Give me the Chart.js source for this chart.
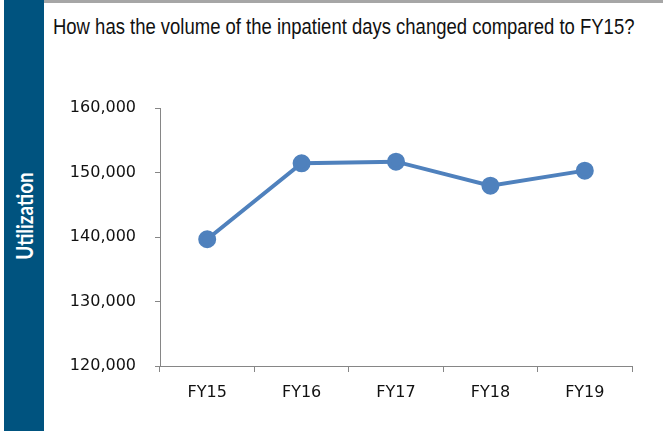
<!DOCTYPE html>
<html>
<head>
<meta charset="utf-8">
<script src="https://cdn.jsdelivr.net/npm/chart.js@4"></script>
<style>
  html, body { margin: 0; padding: 0; background: #fff; }
  #wrap { position: relative; width: 663px; height: 431px; overflow: hidden; }
  #topbar { position: absolute; left: 44px; top: 0; width: 619px; height: 3px; background: #a6a6a6; }
  #side { position: absolute; left: 4px; top: 0; width: 40px; height: 431px; background: #00537f; }
  #side span { position: absolute; left: 20px; top: 216px; line-height: 1;
    transform: translate(-50%, -50%) rotate(-90deg) scaleX(0.86);
    color: #fff; font: bold 22px Lato, sans-serif; white-space: nowrap; }
  #title { position: absolute; left: 53px; top: 14px; line-height: 1;
    font: 22px "Liberation Sans", Arial, sans-serif; transform: scaleX(0.84); transform-origin: 0 0;
    color: #111; white-space: nowrap; }
  canvas { position: absolute; left: 0; top: 0; }
</style>
</head>
<body>
<div id="wrap">
  <div id="topbar"></div>
  <div id="side"><span>Utilization</span></div>
  <div id="title">How has the volume of the inpatient days changed compared to FY15?</div>
  <canvas id="chart" width="663" height="431"></canvas>
</div>
<script>
const categories = ["FY15", "FY16", "FY17", "FY18", "FY19"];
const inpatientDays = [139650, 151430, 151680, 147950, 150290];
const yMin = 120000, yMax = 160000, yStep = 10000;

const axisColor = "#868686";
const tickFont = { family: "DejaVu Sans", size: 16 };

new Chart(document.getElementById("chart"), {
  type: "line",
  data: {
    labels: categories,
    datasets: [{
      data: inpatientDays,
      borderColor: "#4f81bd",
      backgroundColor: "#4f81bd",
      borderWidth: 4,
      pointRadius: 7,
      pointHoverRadius: 7,
      tension: 0
    }]
  },
  options: {
    responsive: false,
    animation: false,
    layout: { autoPadding: false, padding: { top: 108, right: 31, left: 0, bottom: 0 } },
    plugins: { legend: { display: false }, tooltip: { enabled: false } },
    scales: {
      x: {
        offset: true,
        afterFit: s => { s.height = 65; },
        grid: { drawOnChartArea: false, tickLength: 6, color: axisColor, offset: true },
        border: { color: axisColor, width: 1 },
        ticks: { color: "#111", font: tickFont, padding: 11, maxRotation: 0 }
      },
      y: {
        min: yMin, max: yMax,
        afterFit: s => { s.width = 160; },
        grid: { drawOnChartArea: false, tickLength: 5, color: axisColor },
        border: { color: axisColor, width: 1 },
        ticks: {
          stepSize: yStep, color: "#111", font: tickFont, padding: 19,
          callback: v => v.toLocaleString("en-US")
        }
      }
    }
  }
});
</script>
</body>
</html>
